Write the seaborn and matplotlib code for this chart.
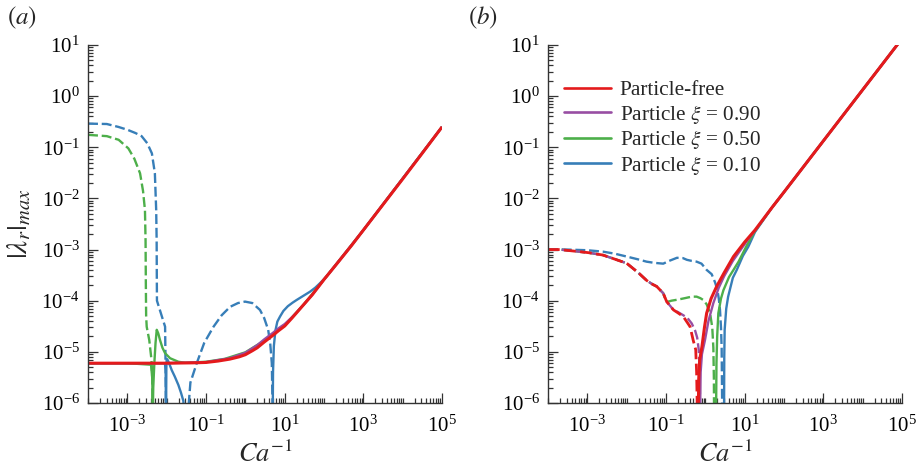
import matplotlib
matplotlib.use("Agg")
import matplotlib.pyplot as plt
import seaborn as sns
from matplotlib.ticker import FixedLocator, LogLocator, NullFormatter, LogFormatterSciNotation
from matplotlib.lines import Line2D

# ---------------------------------------------------------------- data
# (a) particle-free, solid
a_free_x = [1e-4, 1e-3, 1e-2, 0.05, 0.1, 0.2, 0.4, 0.7, 1, 1.5, 2, 3, 5, 7, 10, 15, 20, 30, 50,
            100, 200, 500, 1e3, 3e3, 1e4, 3e4, 1e5]
a_free_y = [6.0e-6, 6.0e-6, 6.0e-6, 6.1e-6, 6.2e-6, 6.6e-6, 7.2e-6, 8.0e-6, 8.8e-6, 1.05e-5, 1.2e-5,
            1.55e-5, 2.1e-5, 2.6e-5, 3.2e-5, 4.5e-5, 5.8e-5, 8.3e-5, 1.3e-4, 2.6e-4, 5.0e-4, 1.2e-3,
            2.4e-3, 7.2e-3, 2.4e-2, 7.3e-2, 0.25]

# (a) xi = 0.90, solid
a_p90_x = [1e-4, 1e-2, 0.1, 0.4, 1, 2, 3, 5, 7, 10, 15, 20, 30, 50, 100, 1e3, 1e5]
a_p90_y = [6.0e-6, 6.0e-6, 6.3e-6, 7.5e-6, 9.6e-6, 1.35e-5, 1.75e-5, 2.35e-5, 2.9e-5, 3.5e-5,
           4.7e-5, 5.9e-5, 8.3e-5, 1.3e-4, 2.6e-4, 2.4e-3, 0.25]

# (a) xi = 0.50, solid and dashed
a_p50_x = [1e-4, 1e-3, 4.0e-3, 4.3e-3, 4.42e-3, 4.55e-3, 4.85e-3, 5.2e-3, 5.58e-3, 6.1e-3, 6.76e-3,
           7.8e-3, 9.1e-3, 1.22e-2, 1.98e-2, 3e-2, 0.1, 0.3, 1, 3, 10, 30, 100, 1e3, 1e5]
a_p50_y = [6.0e-6, 6.0e-6, 5.6e-6, 3.0e-6, 5e-7, 2.0e-6, 6.0e-6, 1.5e-5, 2.7e-5, 2.3e-5, 1.7e-5,
           1.2e-5, 9.4e-6, 7.5e-6, 6.4e-6, 6.1e-6, 6.4e-6, 7.3e-6, 9.8e-6, 1.65e-5, 3.3e-5, 8.3e-5,
           2.6e-4, 2.4e-3, 0.25]
a_p50d_x = [1e-4, 3e-4, 6e-4, 1.06e-3, 1.5e-3, 2.1e-3, 2.5e-3, 2.8e-3, 2.9e-3, 2.95e-3, 3.0e-3,
            3.1e-3, 3.6e-3, 4.1e-3, 4.3e-3, 4.4e-3]
a_p50d_y = [0.175, 0.165, 0.14, 0.095, 0.06, 0.031, 0.014, 5.9e-3, 1.5e-3, 2e-4, 5e-5,
            3.1e-5, 1.7e-5, 7e-6, 3e-6, 5e-7]

# (a) xi = 0.10, two solid branches and two dashed branches
a_p10_x1 = [1e-4, 1e-3, 9.0e-3, 9.4e-3, 9.6e-3, 9.8e-3, 1.0e-2, 1.05e-2, 1.15e-2, 1.34e-2, 1.6e-2,
            1.98e-2, 2.3e-2, 2.65e-2, 2.8e-2]
a_p10_y1 = [6.0e-6, 6.0e-6, 6.0e-6, 4.5e-6, 5e-7, 5.0e-6, 7.3e-6, 7.0e-6, 6.0e-6, 4.4e-6, 3.3e-6,
            2.25e-6, 1.6e-6, 1.1e-6, 5e-7]
a_p10_x2 = [4.95, 5.05, 5.3, 5.8, 6.5, 7.6, 9.25, 12, 16, 20, 30, 44, 60, 79, 117, 200, 500, 1e3, 1e5]
a_p10_y2 = [5e-7, 4e-6, 1.3e-5, 2.6e-5, 3.9e-5, 4.9e-5, 6.3e-5, 7.8e-5, 9.2e-5, 1.03e-4, 1.25e-4,
            1.5e-4, 1.8e-4, 2.2e-4, 3.0e-4, 5.0e-4, 1.2e-3, 2.4e-3, 0.25]
a_p10d_x1 = [1e-4, 3e-4, 5.9e-4, 1e-3, 1.6e-3, 2.3e-3, 3.2e-3, 4.2e-3, 5.0e-3, 5.4e-3, 5.55e-3,
             5.6e-3, 5.65e-3, 9.1e-3, 9.3e-3, 9.5e-3, 9.6e-3]
a_p10d_y1 = [0.29, 0.285, 0.25, 0.22, 0.19, 0.165, 0.12, 0.076, 0.031, 6e-3, 1.5e-3,
             3e-4, 1.0e-4, 3.1e-5, 8e-6, 2e-6, 5e-7]
a_p10d_x2 = [0.034, 0.04, 0.058, 0.09, 0.155, 0.25, 0.41, 0.65, 0.98, 1.5, 2.35, 3.0, 3.8, 4.3,
             4.7, 4.97]
a_p10d_y2 = [5e-7, 2.5e-6, 6e-6, 1.5e-5, 3.1e-5, 5.2e-5, 7.6e-5, 9.0e-5, 9.6e-5, 9.0e-5, 6.6e-5,
             4.6e-5, 2.7e-5, 1.4e-5, 6e-6, 5e-7]

# (b) particle-free
b_free_x = [0.66, 0.68, 0.72, 0.82, 0.95, 1.08, 1.4, 1.94, 3, 5.2, 10, 18.3, 50, 100, 1e3, 1e4, 1e5]
b_free_y = [5e-7, 3e-6, 7e-6, 1.26e-5, 3e-5, 5.7e-5, 1.1e-4, 1.9e-4, 3.5e-4, 7.3e-4, 1.4e-3,
            2.4e-3, 6.7e-3, 1.33e-2, 0.133, 1.33, 13.3]
b_freed_x = [1e-4, 2e-4, 1.06e-3, 2.5e-3, 4.2e-3, 1e-2, 0.02, 0.032, 0.045, 0.058, 0.085, 0.104,
             0.155, 0.2, 0.275, 0.41, 0.49, 0.57, 0.6, 0.63]
b_freed_y = [1.0e-3, 1.0e-3, 8.7e-4, 7.8e-4, 6.8e-4, 5.4e-4, 3.5e-4, 2.5e-4, 2.1e-4, 1.9e-4,
             1.4e-4, 9.6e-5, 6.6e-5, 5.8e-5, 4.9e-5, 3.1e-5, 1.7e-5, 1.1e-5, 4e-6, 5e-7]

# (b) xi = 0.90
b_p90_x = [0.73, 0.76, 0.82, 0.98, 1.2, 1.6, 2.2, 3, 5, 8, 12, 18.3, 50, 100, 1e3, 1e4, 1e5]
b_p90_y = [5e-7, 4e-6, 9e-6, 1.7e-5, 4e-5, 9e-5, 1.8e-4, 3.0e-4, 6.0e-4, 1.0e-3, 1.55e-3, 2.35e-3,
           6.7e-3, 1.33e-2, 0.133, 1.33, 13.3]
b_p90d_x = [1e-4, 2e-4, 1.06e-3, 2.5e-3, 4.2e-3, 1e-2, 0.02, 0.032, 0.045, 0.058, 0.085, 0.104,
            0.155, 0.2, 0.275, 0.35, 0.45, 0.55, 0.62, 0.68, 0.72, 0.74]
b_p90d_y = [1.0e-3, 1.0e-3, 8.7e-4, 7.8e-4, 6.8e-4, 5.4e-4, 3.5e-4, 2.5e-4, 2.1e-4, 1.9e-4,
            1.4e-4, 9.6e-5, 6.6e-5, 6.0e-5, 5.2e-5, 4.6e-5, 3.6e-5, 2.6e-5, 1.9e-5, 1.1e-5,
            4e-6, 5e-7]

# (b) xi = 0.50
b_p50_x = [1.87, 1.92, 2.0, 2.14, 2.5, 2.88, 4, 5.2, 7, 11.3, 18.3, 50, 100, 1e3, 1e4, 1e5]
b_p50_y = [5e-7, 6e-6, 2e-5, 5.7e-5, 1.1e-4, 1.6e-4, 2.9e-4, 4.0e-4, 5.8e-4, 1.2e-3, 2.3e-3,
           6.7e-3, 1.33e-2, 0.133, 1.33, 13.3]
b_p50d_x = [1e-4, 2e-4, 1.06e-3, 2.5e-3, 4.2e-3, 1e-2, 0.02, 0.032, 0.045, 0.058, 0.085, 0.1,
            0.115, 0.137, 0.2, 0.3, 0.45, 0.6, 0.75, 0.89, 1.08, 1.32, 1.5, 1.6, 1.65, 1.67]
b_p50d_y = [1.0e-3, 1.0e-3, 8.7e-4, 7.8e-4, 6.8e-4, 5.4e-4, 3.5e-4, 2.5e-4, 2.1e-4, 1.9e-4,
            1.4e-4, 1.0e-4, 9.6e-5, 1.0e-4, 1.05e-4, 1.12e-4, 1.2e-4, 1.2e-4, 1.12e-4, 1.03e-4,
            8.5e-5, 5.7e-5, 3.0e-5, 1.2e-5, 3e-6, 5e-7]

# (b) xi = 0.10
b_p10_x = [2.99, 3.03, 3.1, 3.4, 3.8, 5, 6.3, 9, 12.4, 18.3, 50, 100, 1e3, 1e4, 1e5]
b_p10_y = [5e-7, 8e-6, 2.7e-5, 7e-5, 1.2e-4, 2.8e-4, 4e-4, 7.5e-4, 1.14e-3, 2.2e-3, 6.7e-3,
           1.33e-2, 0.133, 1.33, 13.3]
b_p10d_x = [1e-4, 3e-4, 1e-3, 2.5e-3, 5e-3, 1e-2, 0.02, 0.032, 0.05, 0.085, 0.12, 0.19, 0.27,
            0.34, 0.45, 0.6, 0.8, 1.08, 1.45, 1.76, 2.0, 2.2, 2.36, 2.5, 2.6, 2.7]
b_p10d_y = [1.0e-3, 1.0e-3, 9.7e-4, 9.1e-4, 8.3e-4, 7.3e-4, 6.4e-4, 5.8e-4, 5.5e-4, 5.3e-4,
            6.0e-4, 6.9e-4, 6.8e-4, 6.3e-4, 6.0e-4, 5.8e-4, 5.3e-4, 4.0e-4, 3.3e-4, 2.3e-4,
            1.7e-4, 1.1e-4, 6.6e-5, 3.0e-5, 1.2e-5, 5e-7]

legend_labels = ["Particle-free", r"Particle $\xi$ = 0.90", r"Particle $\xi$ = 0.50",
                 r"Particle $\xi$ = 0.10"]
x_major = [1e-3, 1e-1, 1e1, 1e3, 1e5]

# ---------------------------------------------------------------- style
sns.set_theme(style="ticks")
plt.rcParams.update({
    "font.family": ["Liberation Serif", "DejaVu Serif"],
    "mathtext.fontset": "stix",
    "axes.edgecolor": "#333333",
    "axes.linewidth": 1.0,
    "xtick.color": "#333333",
    "ytick.color": "#333333",
    "xtick.labelcolor": "black",
    "ytick.labelcolor": "black",
})

pal = sns.color_palette("Set1")
RED, BLUE, GREEN, PURPLE = pal[0], pal[1], pal[2], pal[3]

fig = plt.figure(figsize=(9.19, 4.71), dpi=100)
ax_a = fig.add_axes([0.0958, 0.1444, 0.3852, 0.7601])
ax_b = fig.add_axes([0.5963, 0.1444, 0.3852, 0.7601])


def draw(ax, x, y, color, dashed=False, lw=1.7):
    sns.lineplot(x=x, y=y, ax=ax, color=color, lw=lw, estimator=None, sort=False)
    line = ax.lines[-1]
    if dashed:
        line.set_dashes([4.2, 1.6])
    line.set_solid_capstyle("butt")


# panel (a)
draw(ax_a, a_p10d_x1, a_p10d_y1, BLUE, dashed=True)
draw(ax_a, a_p10d_x2, a_p10d_y2, BLUE, dashed=True)
draw(ax_a, a_p10_x1, a_p10_y1, BLUE)
draw(ax_a, a_p10_x2, a_p10_y2, BLUE)
draw(ax_a, a_p50d_x, a_p50d_y, GREEN, dashed=True)
draw(ax_a, a_p50_x, a_p50_y, GREEN)
draw(ax_a, a_p90_x, a_p90_y, PURPLE)
draw(ax_a, a_free_x, a_free_y, RED, lw=2.2)

# panel (b)
draw(ax_b, b_p10d_x, b_p10d_y, BLUE, dashed=True)
draw(ax_b, b_p10_x, b_p10_y, BLUE)
draw(ax_b, b_p50d_x, b_p50d_y, GREEN, dashed=True)
draw(ax_b, b_p50_x, b_p50_y, GREEN)
draw(ax_b, b_p90d_x, b_p90d_y, PURPLE, dashed=True)
draw(ax_b, b_p90_x, b_p90_y, PURPLE)
draw(ax_b, b_freed_x, b_freed_y, RED, dashed=True, lw=2.0)
draw(ax_b, b_free_x, b_free_y, RED, lw=2.2)

minor_x = [k * 10.0 ** n for n in range(-4, 5) for k in range(1, 10)
           if not any(abs(k * 10.0 ** n - m) / m < 1e-9 for m in x_major)]

for ax in (ax_a, ax_b):
    ax.set_xscale("log")
    ax.set_yscale("log")
    ax.set_xlim(1e-4, 1e5)
    ax.set_ylim(1e-6, 1e1)
    ax.xaxis.set_major_locator(FixedLocator(x_major))
    ax.xaxis.set_major_formatter(LogFormatterSciNotation())
    ax.xaxis.set_minor_locator(FixedLocator(minor_x))
    ax.xaxis.set_minor_formatter(NullFormatter())
    ax.yaxis.set_major_locator(LogLocator(base=10, numticks=20))
    ax.yaxis.set_minor_locator(LogLocator(base=10, subs=range(2, 10), numticks=20))
    ax.yaxis.set_minor_formatter(NullFormatter())
    ax.tick_params(which="both", direction="in", labelsize=15, width=0.9)
    ax.tick_params(which="major", length=7)
    ax.tick_params(axis="x", which="major", pad=9)
    ax.tick_params(axis="y", which="major", pad=6)
    ax.tick_params(which="minor", length=3.5)
    sns.despine(ax=ax)
    ax.set_xlabel(r"$Ca^{-1}$", fontsize=19, labelpad=3)

ax_a.set_ylabel(r"$|\lambda_r|_{max}$", fontsize=21, labelpad=0)
ax_a.yaxis.set_label_coords(-0.155, 0.5)

handles = [Line2D([], [], color=c, lw=1.9) for c in (RED, PURPLE, GREEN, BLUE)]
ax_b.legend(handles, legend_labels, loc="upper left", bbox_to_anchor=(0.02, 0.925), frameon=False,
            fontsize=15.3, handlelength=2.25, handletextpad=0.4, labelspacing=0.12,
            borderaxespad=0.0)

fig.text(0.008, 0.962, r"$(a)$", fontsize=18, va="center", ha="left")
fig.text(0.509, 0.962, r"$(b)$", fontsize=18, va="center", ha="left")

fig.savefig("out.png", dpi=100)
